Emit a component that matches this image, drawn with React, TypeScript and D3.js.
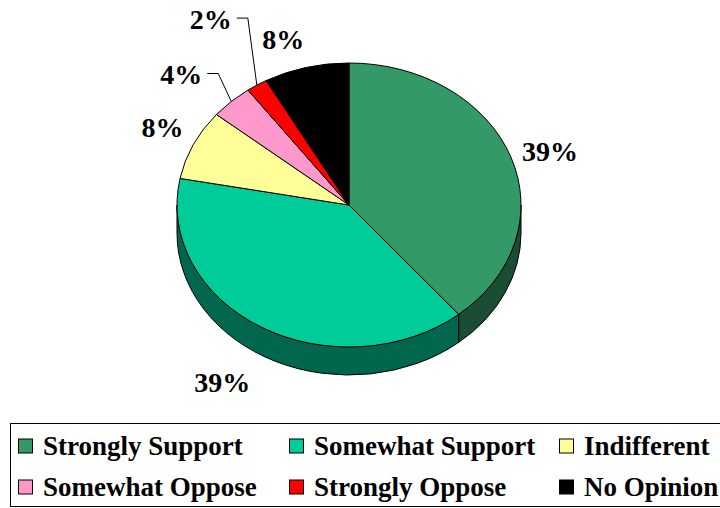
import React from "react";
import * as d3 from "d3";

const categories = ["Strongly Support", "Somewhat Support", "Indifferent", "Somewhat Oppose", "Strongly Oppose", "No Opinion"];
const values = [39, 39, 8, 4, 2, 8];
const labels = ["39%", "39%", "8%", "4%", "2%", "8%"];
const topColors = ["#339966", "#00CC99", "#FFFF99", "#FF99CC", "#FF0000", "#000000"];

// layout
const W = 720, H = 508;
const cx = 349, cy = 205, rx = 172, ry = 142, depth = 28;
const FONT = "Liberation Serif";
const labelGap = 12;
const leaderElbows: Record<number, [number, number]> = { 3: [-13, -28], 4: [-9, -67] };

function pt(theta: number, dr = 0, yOff = 0): [number, number] {
  return [cx + (rx + dr) * Math.sin(theta), cy - (ry + dr) * Math.cos(theta) + yOff];
}

function shade(c: string, k: number) {
  const col = d3.rgb(c);
  return d3.rgb(col.r * k, col.g * k, col.b * k).formatHex();
}

export default function App() {
  const pie = d3.pie<number>().sort(null).value((d) => d).startAngle(0).endAngle(2 * Math.PI);
  const arcs = pie(values);

  const sides: React.ReactNode[] = [];
  const tops: React.ReactNode[] = [];
  const texts: React.ReactNode[] = [];

  arcs.forEach((a, i) => {
    const a0 = a.startAngle, a1 = a.endAngle;
    const s0 = Math.max(a0, Math.PI / 2), s1 = Math.min(a1, (3 * Math.PI) / 2);
    if (s1 > s0) {
      const p0 = pt(s0), p1 = pt(s1);
      const q1 = pt(s1, 0, depth), q0 = pt(s0, 0, depth);
      const large = s1 - s0 > Math.PI ? 1 : 0;
      const d = `M${p0[0]},${p0[1]} A${rx},${ry} 0 ${large} 1 ${p1[0]},${p1[1]} L${q1[0]},${q1[1]} A${rx},${ry} 0 ${large} 0 ${q0[0]},${q0[1]} Z`;
      sides.push(<path key={"s" + i} d={d} fill={shade(topColors[i], 0.5)} stroke="#000" strokeWidth={1} strokeLinejoin="round" />);
    }
    const p0 = pt(a0), p1 = pt(a1);
    const large = a1 - a0 > Math.PI ? 1 : 0;
    const d = `M${cx},${cy} L${p0[0]},${p0[1]} A${rx},${ry} 0 ${large} 1 ${p1[0]},${p1[1]} Z`;
    tops.push(<path key={"t" + i} d={d} fill={topColors[i]} stroke="#000" strokeWidth={1} strokeLinejoin="round" />);

    const mid = (a0 + a1) / 2;
    const lower = Math.cos(mid) < 0;
    const right = Math.sin(mid) > 0;
    if (leaderElbows[i]) {
      const e = pt(mid);
      const [ex, ey] = leaderElbows[i];
      const elbow: [number, number] = [e[0] + ex, e[1] + ey];
      const end: [number, number] = [elbow[0] - 11, elbow[1]];
      texts.push(
        <polyline key={"l" + i} points={`${e[0]},${e[1]} ${elbow[0]},${elbow[1]} ${end[0]},${end[1]}`} fill="none" stroke="#000" strokeWidth={1} />
      );
      texts.push(
        <text key={"x" + i} x={end[0] - 5} y={end[1] + 11} textAnchor="end" fontFamily={FONT} fontWeight="bold" fontSize={28}>
          {labels[i]}
        </text>
      );
    } else {
      const p = pt(mid, labelGap, lower ? depth : 0);
      const upLift = 2 + 10 * Math.max(0, Math.cos(mid) - 0.5);
      texts.push(
        <text
          key={"x" + i}
          x={lower ? p[0] - 5 : p[0] + (right ? 0 : 1)}
          y={lower ? p[1] + 26 : right ? p[1] + 8 : p[1] - upLift}
          textAnchor={right ? "start" : "end"}
          fontFamily={FONT}
          fontWeight="bold"
          fontSize={28}
        >
          {labels[i]}
        </text>
      );
    }
  });

  const colX = [18, 289, 559];
  const rowY = [446, 487];
  const sw = 15;

  return (
    <svg width={W} height={H} style={{ position: "absolute", left: 0, top: 0, background: "#fff" }}>
      <rect x={0} y={0} width={W} height={H} fill="#fff" />
      <g>{sides}</g>
      <g>{tops}</g>
      <g>{texts}</g>
      <rect x={10.5} y={423.5} width={720} height={83} fill="none" stroke="#000" strokeWidth={1} />
      {categories.map((c, i) => {
        const col = i % 3, row = Math.floor(i / 3);
        const x = colX[col], y = rowY[row];
        return (
          <g key={c}>
            <rect x={x + 0.5} y={y - sw / 2 + 0.5} width={sw - 1} height={sw - 1} fill={topColors[i]} stroke="#000" strokeWidth={1} />
            <text x={x + sw + 10} y={y + 9} fontFamily={FONT} fontWeight="bold" fontSize={27}>
              {c}
            </text>
          </g>
        );
      })}
    </svg>
  );
}
